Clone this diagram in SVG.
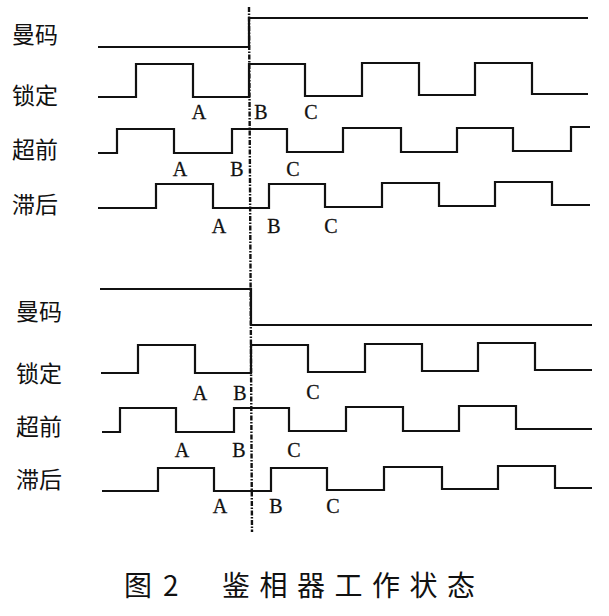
<svg xmlns="http://www.w3.org/2000/svg" width="609" height="616" viewBox="0 0 609 616">
<style>
.w{fill:none;stroke:#111;stroke-width:2.2;stroke-linejoin:miter}
.lbl{font-family:"Noto Sans CJK SC","Noto Sans",sans-serif;font-size:23px;fill:#111;dominant-baseline:central}
.pt{font-family:"Liberation Serif",serif;font-size:20px;fill:#111;stroke:#111;stroke-width:0.3;text-anchor:middle}
.cap{font-family:"Noto Sans CJK SC","Noto Sans",sans-serif;font-size:28px;fill:#111}
.dash{stroke:#111;stroke-width:2.4;stroke-dasharray:5 1.5 1.5 1.5;fill:none}
</style>
<rect width="609" height="616" fill="#fff"/>
<g id="top-section">
  <g id="top-manchester">
    <text class="lbl" x="12" y="33">曼码</text>
    <path class="w" d="M98,47 H249 V18 H588"/>
  </g>
  <g id="top-locked">
    <text class="lbl" x="12" y="94">锁定</text>
    <path class="w" d="M98,97 H136 V64 H193 V97 H249 V64 H305 V96 H362 V63 H419 V95 H475 V63 H532 V94 H588"/>
    <text class="pt" x="199" y="119">A</text>
    <text class="pt" x="261" y="119">B</text>
    <text class="pt" x="311" y="119">C</text>
  </g>
  <g id="top-lead">
    <text class="lbl" x="12" y="148">超前</text>
    <path class="w" d="M98,153 H117 V129 H174 V153 H232 V129 H287 V152 H343 V128 H401 V152 H457 V128 H513 V151 H571 V127 H590"/>
    <text class="pt" x="180" y="176">A</text>
    <text class="pt" x="237" y="176">B</text>
    <text class="pt" x="293" y="176">C</text>
  </g>
  <g id="top-lag">
    <text class="lbl" x="12" y="203">滞后</text>
    <path class="w" d="M98,208 H156 V184 H213 V208 H269 V184 H325 V207 H382 V183 H439 V206 H495 V182 H552 V205 H590"/>
    <text class="pt" x="219" y="233">A</text>
    <text class="pt" x="274" y="233">B</text>
    <text class="pt" x="331" y="233">C</text>
  </g>
</g>
<g id="bottom-section">
  <g id="bot-manchester">
    <text class="lbl" x="16" y="310">曼码</text>
    <path class="w" d="M100,289 H251 V325 H592"/>
  </g>
  <g id="bot-locked">
    <text class="lbl" x="16" y="372">锁定</text>
    <path class="w" d="M101,373 H138 V345 H195 V373 H251 V345 H308 V372 H365 V344 H422 V371 H478 V343 H535 V370 H592"/>
    <text class="pt" x="200" y="400">A</text>
    <text class="pt" x="240" y="400">B</text>
    <text class="pt" x="313" y="399">C</text>
  </g>
  <g id="bot-lead">
    <text class="lbl" x="16" y="425">超前</text>
    <path class="w" d="M102,432 H120 V408 H176 V432 H234 V408 H289 V431 H346 V407 H403 V431 H459 V406 H516 V429 H592"/>
    <text class="pt" x="182" y="457">A</text>
    <text class="pt" x="239" y="457">B</text>
    <text class="pt" x="294" y="457">C</text>
  </g>
  <g id="bot-lag">
    <text class="lbl" x="16" y="478">滞后</text>
    <path class="w" d="M102,491 H158 V468 H214 V491 H271 V468 H327 V490 H384 V467 H442 V489 H498 V466 H555 V488 H592"/>
    <text class="pt" x="220" y="513">A</text>
    <text class="pt" x="276" y="513">B</text>
    <text class="pt" x="333" y="513">C</text>
  </g>
</g>
<g id="connectors">
  <line class="dash" x1="249" y1="7" x2="252" y2="532"/>
</g>
<g id="caption">
  <text class="cap" y="596"><tspan x="124">图</tspan><tspan x="163">2</tspan><tspan x="222" letter-spacing="9.5">鉴相器工作状态</tspan></text>
</g>
</svg>
